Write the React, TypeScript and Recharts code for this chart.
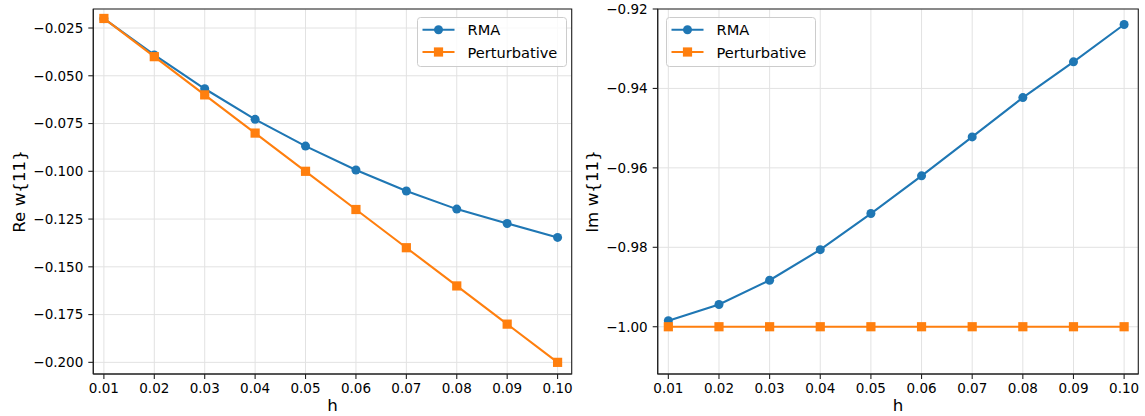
import React from "react";
import { LineChart, Line, XAxis, YAxis, CartesianGrid, Legend, ReferenceArea } from "recharts";

// h values (shared by both panels)
const hValues = [0.01, 0.02, 0.03, 0.04, 0.05, 0.06, 0.07, 0.08, 0.09, 0.1];

// Re w{11}
const reRMA = [-0.0201, -0.0391, -0.0568, -0.0728, -0.0868, -0.0993, -0.1103, -0.1198, -0.1273, -0.1346];
const rePert = [-0.02, -0.04, -0.06, -0.08, -0.1, -0.12, -0.14, -0.16, -0.18, -0.2];

// Im w{11}
const imRMA = [-0.9985, -0.9944, -0.9883, -0.9806, -0.9715, -0.962, -0.9522, -0.9423, -0.9333, -0.9239];
const imPert = [-1, -1, -1, -1, -1, -1, -1, -1, -1, -1];

const reTicks = [-0.2, -0.175, -0.15, -0.125, -0.1, -0.075, -0.05, -0.025];
const imTicks = [-1.0, -0.98, -0.96, -0.94, -0.92];

const BLUE = "#1f77b4";
const ORANGE = "#ff7f0e";
const FONT = "DejaVu Sans";
const X_DOMAIN: [number, number] = [0.0079, 0.1028];

const fmt = (digits: number) => (v: number) =>
  (v < 0 ? "\u2212" : "") + Math.abs(v).toFixed(digits);

const Square = (props: any) => {
  const { cx, cy, index } = props;
  if (cx == null || cy == null) return null;
  return <rect key={`sq-${index}`} x={cx - 4.6} y={cy - 4.6} width={9.2} height={9.2} fill={ORANGE} />;
};

function LegendBox() {
  return (
    <svg width={150} height={50} style={{ display: "block" }}>
      <rect x={0.5} y={0.5} width={149} height={49} rx={3} fill="#fff" fillOpacity={0.8} stroke="#cccccc" />
      <line x1={5.5} x2={37.5} y1={12.8} y2={12.8} stroke={BLUE} strokeWidth={2.1} />
      <circle cx={21.5} cy={12.8} r={4.5} fill={BLUE} />
      <text x={50.5} y={12.8} dominantBaseline="central" fontSize={14.6} fontFamily={FONT} fill="#000">
        RMA
      </text>
      <line x1={5.5} x2={37.5} y1={35} y2={35} stroke={ORANGE} strokeWidth={2.1} />
      <rect x={16.9} y={30.4} width={9.2} height={9.2} fill={ORANGE} />
      <text x={50.5} y={35} dominantBaseline="central" fontSize={14.6} fontFamily={FONT} fill="#000">
        Perturbative
      </text>
    </svg>
  );
}

type PanelProps = {
  width: number;
  yAxisWidth: number;
  rightMargin: number;
  yDomain: [number, number];
  yTicks: number[];
  yDigits: number;
  rma: number[];
  pert: number[];
  yLabel: string;
  yLabelX: number;
  legendLeft: number;
};

function Panel(p: PanelProps) {
  const data = hValues.map((h, i) => ({ h, rma: p.rma[i], pert: p.pert[i] }));
  const axisColor = "#222";
  const tickStyle = { fontSize: 13.5, fill: "#000", fontFamily: FONT };

  return (
    <LineChart
      width={p.width}
      height={416}
      data={data}
      margin={{ top: 9, right: p.rightMargin, bottom: 0, left: 0 }}
    >
      <CartesianGrid stroke="#e2e2e2" strokeWidth={1} />
      <XAxis
        dataKey="h"
        type="number"
        domain={X_DOMAIN}
        ticks={hValues}
        interval={0}
        allowDataOverflow
        tickFormatter={fmt(2)}
        height={42}
        tickSize={5}
        tickMargin={4}
        tick={tickStyle}
        stroke={axisColor}
        axisLine={{ stroke: axisColor, strokeWidth: 1.1 }}
        tickLine={{ stroke: axisColor, strokeWidth: 1.1 }}
        label={{
          content: (props: any) => {
            const vb = props.viewBox || {};
            return (
              <text x={vb.x + vb.width / 2} y={411} textAnchor="middle" fontSize={16.7} fontFamily={FONT} fill="#000">
                h
              </text>
            );
          },
        }}
      />
      <YAxis
        type="number"
        domain={p.yDomain}
        ticks={p.yTicks}
        interval={0}
        allowDataOverflow
        tickFormatter={fmt(p.yDigits)}
        width={p.yAxisWidth}
        tickSize={5}
        tickMargin={5}
        tick={tickStyle}
        axisLine={{ stroke: axisColor, strokeWidth: 1.1 }}
        tickLine={{ stroke: axisColor, strokeWidth: 1.1 }}
        label={{
          content: (props: any) => {
            const vb = props.viewBox || {};
            const cy = vb.y + vb.height / 2;
            return (
              <text
                x={p.yLabelX}
                y={cy}
                transform={`rotate(-90 ${p.yLabelX} ${cy})`}
                textAnchor="middle"
                fontSize={16.7}
                fontFamily={FONT}
                fill="#000"
              >
                {p.yLabel}
              </text>
            );
          },
        }}
      />
      <Line
        type="linear"
        dataKey="rma"
        name="RMA"
        stroke={BLUE}
        strokeWidth={2.1}
        dot={{ r: 4.5, fill: BLUE, stroke: BLUE, strokeWidth: 0 }}
        activeDot={false}
        isAnimationActive={false}
      />
      <Line
        type="linear"
        dataKey="pert"
        name="Perturbative"
        stroke={ORANGE}
        strokeWidth={2.1}
        dot={Square}
        activeDot={false}
        isAnimationActive={false}
      />
      {/* frame (top and right spines) */}
      <ReferenceArea
        x1={X_DOMAIN[0]}
        x2={X_DOMAIN[1]}
        y1={p.yDomain[0]}
        y2={p.yDomain[1]}
        fill="none"
        fillOpacity={0}
        stroke={axisColor}
        strokeWidth={1.1}
        ifOverflow="visible"
      />
      <Legend
        layout="vertical"
        align="center"
        verticalAlign="middle"
        wrapperStyle={{ position: "absolute", left: p.legendLeft, top: 16.5, width: 150, height: 50 }}
        content={() => <LegendBox />}
      />
    </LineChart>
  );
}

export default function App() {
  return (
    <div
      style={{
        position: "absolute",
        left: 0,
        top: 0,
        width: 1145,
        height: 416,
        background: "#fff",
        fontFamily: FONT,
      }}
    >
      <div style={{ position: "absolute", left: 0, top: 0 }}>
        <Panel
          width={580}
          yAxisWidth={93.3}
          rightMargin={8.3}
          yDomain={[-0.2061, -0.01505]}
          yTicks={reTicks}
          yDigits={3}
          rma={reRMA}
          pert={rePert}
          yLabel="Re w{11}"
          yLabelX={25}
          legendLeft={417}
        />
      </div>
      <div style={{ position: "absolute", left: 580, top: 0 }}>
        <Panel
          width={565}
          yAxisWidth={77.7}
          rightMargin={6.7}
          yDomain={[-1.0119, -0.92]}
          yTicks={imTicks}
          yDigits={2}
          rma={imRMA}
          pert={imPert}
          yLabel="Im w{11}"
          yLabelX={18}
          legendLeft={86}
        />
      </div>
    </div>
  );
}
